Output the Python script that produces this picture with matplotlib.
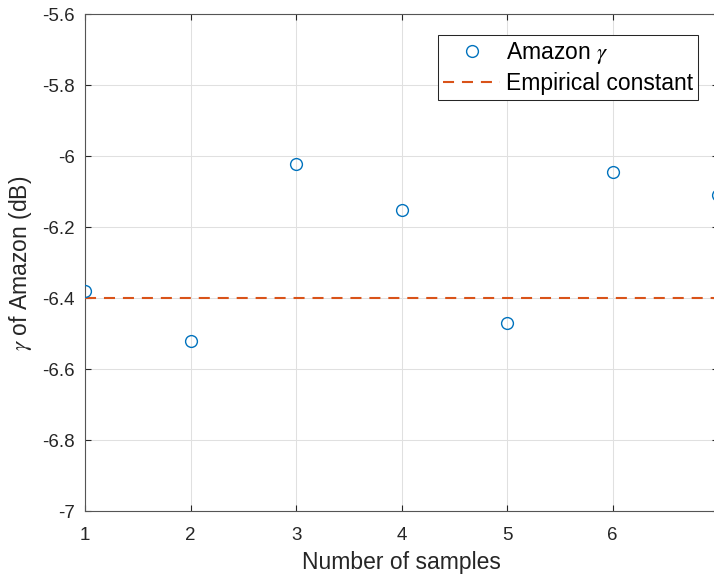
import matplotlib.pyplot as plt
from matplotlib.ticker import FuncFormatter

samples = [1, 2, 3, 4, 5, 6, 7]
amazon_gamma = [-6.38, -6.52, -6.02, -6.15, -6.47, -6.045, -6.11]
empirical_constant = -6.4
x_ticks = [1, 2, 3, 4, 5, 6, 7]
y_ticks = [-7, -6.8, -6.6, -6.4, -6.2, -6, -5.8, -5.6]

plt.rcParams['font.family'] = ['Liberation Sans', 'DejaVu Sans']
plt.rcParams['mathtext.fontset'] = 'stix'

txt = '#262626'
blue = '#0072BD'
orange = '#D95319'

fig = plt.figure(figsize=(7.14, 5.78), dpi=100)
# axes runs slightly past the right edge, like the cropped original
ax = fig.add_axes([0.119, 0.1151, 0.887, 0.860])

ax.plot(samples, amazon_gamma, 'o', ls='none', mfc='none', mec=blue,
        ms=8.5, mew=1.0, label=r'Amazon $\gamma$', zorder=4)
ax.plot(samples, [empirical_constant] * len(samples), color=orange, lw=1.5,
        ls=(0, (5.3, 3.8)), label='Empirical constant', zorder=3)

ax.set_xlim(1, 7)
ax.set_ylim(-7, -5.6)
ax.set_xticks(x_ticks)
ax.set_yticks(y_ticks)
ax.yaxis.set_major_formatter(FuncFormatter(lambda v, p: f'{v:g}'.replace('\u2212', '-')))

ax.grid(True, color='#e0e0e0', lw=0.75, zorder=0)
ax.set_axisbelow(True)
for s in ax.spines.values():
    s.set_color('#555555')
    s.set_linewidth(0.8)

ax.tick_params(direction='in', length=4.5, width=0.8, color=txt,
               top=True, right=True, labelsize=13.5, labelcolor=txt)
ax.tick_params(axis='x', pad=11.5)
ax.tick_params(axis='y', pad=7.2)

ax.set_xlabel('Number of samples', fontsize=16.5, color=txt)
ax.set_ylabel(r'$\gamma$ of Amazon (dB)', fontsize=16.5, color=txt)
ax.xaxis.set_label_coords(0.5, -0.080)
ax.yaxis.set_label_coords(-0.0805, 0.5)

leg = ax.legend(loc='upper right', bbox_to_anchor=(0.9675, 0.9584),
                borderaxespad=0, fontsize=16.5, fancybox=False, framealpha=1,
                edgecolor=txt, handlelength=2.49, handletextpad=0.26,
                borderpad=0.2, labelspacing=0.29)
leg.get_frame().set_linewidth(0.75)

fig.savefig('out.png', dpi=100)
